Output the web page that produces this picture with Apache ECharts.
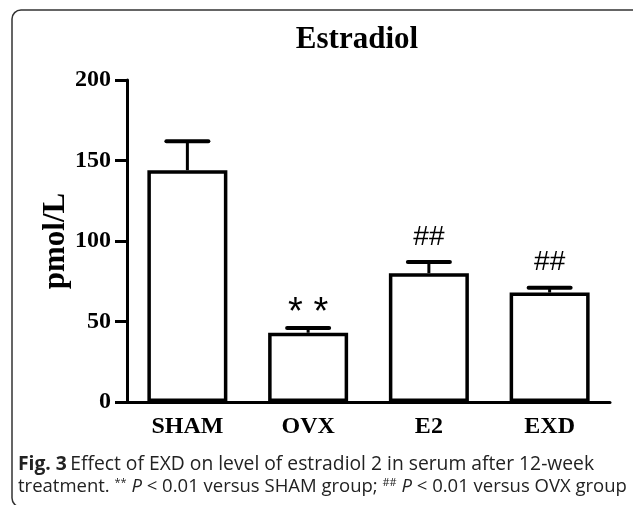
<!DOCTYPE html>
<html>
<head>
<meta charset="utf-8">
<script src="https://cdn.jsdelivr.net/npm/echarts@6/dist/echarts.min.js"></script>
<style>
  html, body { margin: 0; padding: 0; background: #fff; }
  #chart { width: 633px; height: 505px; }
</style>
</head>
<body>
<div id="chart"></div>
<script>
// values (pmol/L)
const categories = ['SHAM', 'OVX', 'E2', 'EXD'];
const means = [144, 43, 80, 68];
const errors = [18, 3, 7, 3];
const marks = ['', '* *', '##', '##'];
const yTicks = [0, 50, 100, 150, 200];

const serif = '"Liberation Serif", "Times New Roman", serif';
const sans = '"Liberation Sans", Arial, sans-serif';
const capFont = '"Open Sans", "Noto Sans", sans-serif';

const chart = echarts.init(document.getElementById('chart'));

const errData = categories.map((c, i) => [i, means[i], errors[i]]);

chart.setOption({
  animation: false,
  backgroundColor: '#fff',
  grid: { left: 127, right: 23, top: 80, bottom: 103 },
  xAxis: {
    type: 'category',
    data: categories,
    axisLine: { lineStyle: { color: '#000', width: 3 } },
    axisTick: { show: false },
    axisLabel: { color: '#000', fontFamily: serif, fontWeight: 'bold', fontSize: 24, margin: 13 }
  },
  yAxis: {
    type: 'value',
    min: yTicks[0],
    max: yTicks[yTicks.length - 1],
    interval: 50,
    name: 'pmol/L',
    nameLocation: 'middle',
    nameGap: 56,
    nameMoveOverlap: false,
    nameRotate: 90,
    nameTextStyle: { color: '#000', fontFamily: serif, fontWeight: 'bold', fontSize: 31 },
    splitLine: { show: false },
    axisLine: { show: true, lineStyle: { color: '#000', width: 3 } },
    axisTick: { show: true, length: 12, lineStyle: { color: '#000', width: 3 } },
    axisLabel: { color: '#000', fontFamily: serif, fontWeight: 'bold', fontSize: 24, margin: 16 }
  },
  series: [
    {
      type: 'bar',
      data: means,
      barWidth: 80,
      itemStyle: { color: '#fff', borderColor: '#000', borderWidth: 3.5 },
      z: 2
    },
    {
      type: 'custom',
      data: errData,
      z: 3,
      renderItem: function (params, api) {
        const idx = params.dataIndex;
        const x = api.value(0);
        const m = api.value(1);
        const e = api.value(2);
        const base = api.coord([x, m]);
        const top = api.coord([x, m + e]);
        const hw = 21;
        const isStar = marks[idx].indexOf('*') >= 0;
        return {
          type: 'group',
          children: [
            { type: 'line', shape: { x1: top[0], y1: base[1], x2: top[0], y2: top[1] },
              style: { stroke: '#000', lineWidth: 3 } },
            { type: 'line', shape: { x1: top[0] - hw, y1: top[1], x2: top[0] + hw, y2: top[1] },
              style: { stroke: '#000', lineWidth: 4, lineCap: 'round' } },
            { type: 'text', x: top[0], y: top[1] - (isStar ? 14 : 25),
              style: { text: marks[idx], fill: '#000', fontFamily: sans,
                fontSize: isStar ? 38 : 28, align: 'center', verticalAlign: 'middle' } }
          ]
        };
      }
    }
  ],
  graphic: [
    { type: 'rect', shape: { x: 12, y: 10, width: 700, height: 497, r: 9 },
      style: { fill: 'none', stroke: '#333', lineWidth: 1.5 }, silent: true },
    { type: 'text', x: 357, y: 40,
      style: { text: 'Estradiol', fill: '#000', fontFamily: serif, fontWeight: 'bold', fontSize: 31,
        align: 'center', verticalAlign: 'middle' } },
    { type: 'text', x: 18, y: 465,
      style: {
        text: '{b|Fig. 3} {r|Effect of EXD on level of estradiol 2 in serum after 12-week}',
        verticalAlign: 'middle',
        rich: {
          b: { fontFamily: capFont, fontWeight: 'bold', fontSize: 19.3, fill: '#222' },
          r: { fontFamily: capFont, fontSize: 19.3, fill: '#222' }
        }
      } },
    { type: 'text', x: 18, y: 487,
      style: {
        text: '{r|treatment. }{s|**}{r| }{i|P}{r| < 0.01 versus SHAM group; }{s|##}{r| }{i|P}{r| < 0.01 versus OVX group}',
        verticalAlign: 'middle',
        rich: {
          r: { fontFamily: capFont, fontSize: 18.5, fill: '#222' },
          i: { fontFamily: capFont, fontSize: 18.5, fontStyle: 'italic', fill: '#222' },
          s: { fontFamily: capFont, fontSize: 11, fill: '#222', verticalAlign: 'top', padding: [0, 0, 9, 0] }
        }
      } }
  ]
});
</script>
</body>
</html>
